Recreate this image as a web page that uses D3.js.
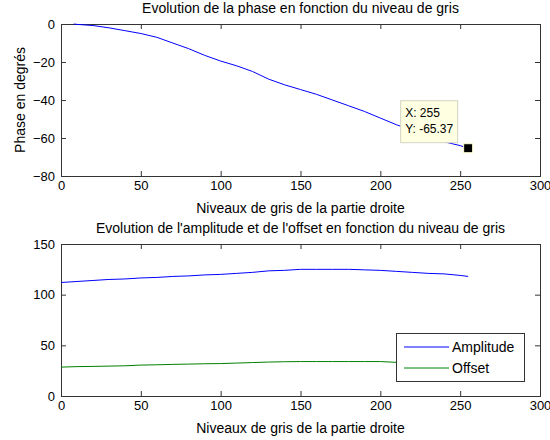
<!DOCTYPE html>
<html>
<head>
<meta charset="utf-8">
<script src="https://cdn.jsdelivr.net/npm/d3@7"></script>
<style>
  body { margin: 0; background: #fff; }
  svg { display: block; }
  text { font-family: "Liberation Sans", Arial, sans-serif; fill: #000; }
</style>
</head>
<body>
<svg id="fig" width="550" height="440"></svg>
<script>

// --- data ---
const phaseX = [8, 10, 20, 30, 40, 50, 60, 70, 80, 90, 100, 110, 120, 130, 140, 150, 160, 170, 180, 190, 200, 210, 220, 230, 240, 250, 255]
const phaseY = [0, -0.2, -0.8, -2, -3.5, -5, -7, -10, -13, -16.5, -19.5, -22, -25, -29, -32, -34.5, -37, -40, -43, -46, -49.5, -53, -56, -59, -62, -64, -65.37]

const levels = [0, 10, 20, 30, 40, 50, 60, 70, 80, 90, 100, 110, 120, 130, 140, 150, 160, 170, 180, 190, 200, 210, 220, 230, 240, 250, 255]
const amplitude = [112, 113, 114, 115, 115.5, 116.5, 117, 118, 118.5, 119.5, 120, 121, 122, 123.5, 124, 125, 125, 125, 125, 124.5, 124, 123, 122, 121, 120.5, 119, 118]
const offset = [28.5, 29, 29.2, 29.5, 29.8, 30.5, 30.8, 31.2, 31.5, 31.8, 32, 32.5, 33, 33.5, 33.8, 34, 34, 34, 34, 34, 34, 33.2, 32.8, 32.3, 31.8, 31.2, 31]

const xTicks = [0, 50, 100, 150, 200, 250, 300]
const phaseTicks = [0, -20, -40, -60, -80]
const ampTicks = [0, 50, 100, 150]

const tip = { x: 255, y: -65.37 }
const legendNames = ['Amplitude', 'Offset']
const colors = ['#0000ff', '#008000']

const svg = d3.select('#fig')
const left = 61, right = 540

function panel (top, height, ydomain, yticks, title, ylabel) {

    const x = d3.scaleLinear().domain([0, 300]).range([left, right])
    const y = d3.scaleLinear().domain(ydomain).range([top + height, top])

    const g = svg.append('g')

    g.append('rect')
        .attr('x', left).attr('y', top)
        .attr('width', right - left).attr('height', height)
        .attr('fill', '#fff')

    const xb = d3.axisBottom(x).tickValues(xTicks).tickSize(-5).tickPadding(5)
    const yl = d3.axisLeft(y).tickValues(yticks).tickSize(-5).tickPadding(6)
    const xt = d3.axisTop(x).tickValues(xTicks).tickSize(-5).tickFormat('')
    const yr = d3.axisRight(y).tickValues(yticks).tickSize(-5).tickFormat('')

    g.append('g').attr('transform', `translate(0,${top + height})`).call(xb)
    g.append('g').attr('transform', `translate(${left},0)`).call(yl)
    g.append('g').attr('transform', `translate(0,${top})`).call(xt)
    g.append('g').attr('transform', `translate(${right},0)`).call(yr)

    g.selectAll('.domain').remove()
    g.selectAll('.tick line').attr('stroke', '#333')
    g.selectAll('.tick text').attr('font-size', 13).attr('font-family', '"Liberation Sans", Arial, sans-serif').attr('fill', '#000')

    g.append('rect')
        .attr('x', left + 0.5).attr('y', top + 0.5)
        .attr('width', right - left).attr('height', height)
        .attr('fill', 'none').attr('stroke', '#333')

    svg.append('text')
        .attr('x', (left + right) / 2).attr('y', top - 11)
        .attr('text-anchor', 'middle').attr('font-size', 14)
        .text(title)

    svg.append('text')
        .attr('x', (left + right) / 2).attr('y', top + height + 37)
        .attr('text-anchor', 'middle').attr('font-size', 14)
        .text('Niveaux de gris de la partie droite')

    if (ylabel) {
        svg.append('text')
            .attr('transform', `translate(25,${top + height / 2}) rotate(-90)`)
            .attr('text-anchor', 'middle').attr('font-size', 14)
            .text(ylabel)
    }

    return { x, y, g }
}

// --- top panel: phase ---
const p1 = panel(24, 152, [-80, 0], phaseTicks, 'Evolution de la phase en fonction du niveau de gris', 'Phase en degrés')

const line1 = d3.line().x((d, i) => p1.x(phaseX[i])).y(d => p1.y(d))
p1.g.append('path').datum(phaseY)
    .attr('fill', 'none').attr('stroke', colors[0]).attr('stroke-width', 1)
    .attr('d', line1)

// data tip
const tx = p1.x(tip.x), ty = p1.y(tip.y)
p1.g.append('rect')
    .attr('x', tx - 4.5).attr('y', ty - 4.5).attr('width', 9).attr('height', 9)
    .attr('fill', '#000').attr('stroke', '#ffffd0').attr('stroke-width', 1)

const tipG = p1.g.append('g')
tipG.append('rect')
    .attr('x', tx - 67.5).attr('y', ty - 47.5).attr('width', 57).attr('height', 42)
    .attr('fill', '#ffffe1').attr('stroke', '#d4d4c4')
tipG.append('text')
    .attr('x', tx - 63).attr('y', ty - 31).attr('font-size', 12)
    .text('X: ' + tip.x)
tipG.append('text')
    .attr('x', tx - 63).attr('y', ty - 15).attr('font-size', 12)
    .text('Y: ' + tip.y)

// --- bottom panel: amplitude & offset ---
const p2 = panel(244, 152, [0, 150], ampTicks, "Evolution de l'amplitude et de l'offset en fonction du niveau de gris", null)

;[amplitude, offset].forEach((series, k) => {
    const line = d3.line().x((d, i) => p2.x(levels[i])).y(d => p2.y(d))
    p2.g.append('path').datum(series)
        .attr('fill', 'none').attr('stroke', colors[k]).attr('stroke-width', 1)
        .attr('d', line)
})

// legend
const lg = p2.g.append('g').attr('transform', 'translate(396,333)')
lg.append('rect')
    .attr('x', 0.5).attr('y', 0.5).attr('width', 128).attr('height', 48)
    .attr('fill', '#fff').attr('stroke', '#333')

legendNames.forEach((name, k) => {
    const yy = 14 + k * 21
    lg.append('line')
        .attr('x1', 8).attr('x2', 53).attr('y1', yy).attr('y2', yy)
        .attr('stroke', colors[k]).attr('stroke-width', 1)
    lg.append('text')
        .attr('x', 56).attr('y', yy + 5).attr('font-size', 14)
        .text(name)
})

</script>
</body>
</html>
